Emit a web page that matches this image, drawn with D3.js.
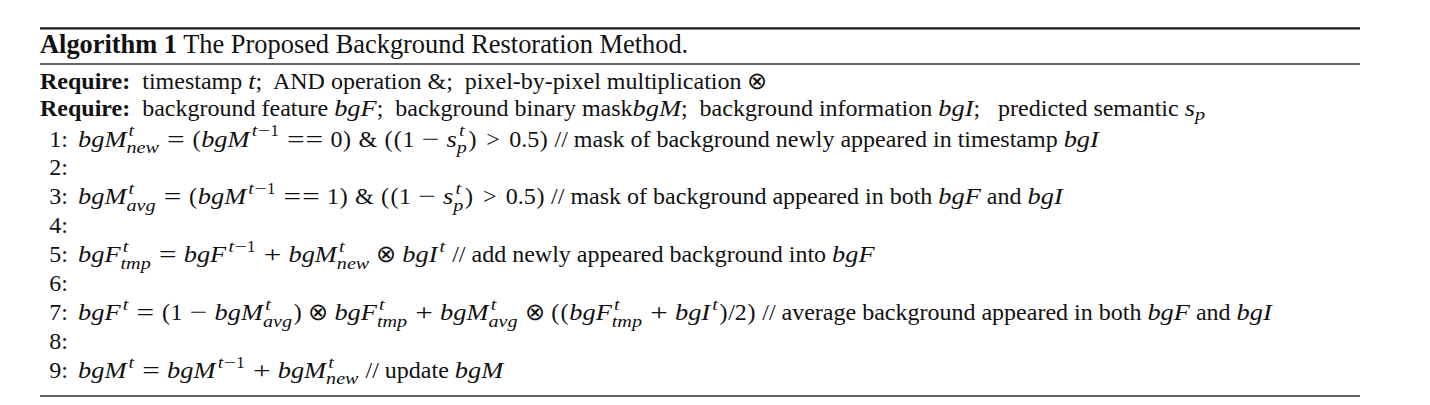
<!DOCTYPE html>
<html>
<head>
<meta charset="utf-8">
<script src="https://cdn.jsdelivr.net/npm/d3@7"></script>
<style>
  html, body { margin: 0; padding: 0; background: #ffffff; }
  svg text { white-space: pre; }
</style>
</head>
<body>
<svg id="chart" width="1430" height="405"></svg>
<script>
// ---- content ----
const titleBold = "Algorithm 1";
const titleText = " The Proposed Background Restoration Method.";
const requireLabel = "Require:";
const requireLines = [
  "timestamp $t$;  AND operation $&$;  pixel-by-pixel multiplication $⊗$",
  "background feature $bgF$;  background binary mask$bgM$;  background information $bgI$;   predicted semantic $s_p$"
];
const stepNumbers = ["1:", "2:", "3:", "4:", "5:", "6:", "7:", "8:", "9:"];
const steps = [
  "$bgM^t_{new} = (bgM^{t-1} == 0) & ((1 - s^t_p) > 0.5)$ // mask of background newly appeared in timestamp $bgI$",
  "",
  "$bgM^t_{avg} = (bgM^{t-1} == 1) & ((1 - s^t_p) > 0.5)$ // mask of background appeared in both $bgF$ and $bgI$",
  "",
  "$bgF^t_{tmp} = bgF^{t-1} + bgM^t_{new} ⊗ bgI^t$ // add newly appeared background into $bgF$",
  "",
  "$bgF^t = (1 - bgM^t_{avg}) ⊗ bgF^t_{tmp} + bgM^t_{avg} ⊗ ((bgF^t_{tmp} + bgI^t)/2)$ // average background appeared in both $bgF$ and $bgI$",
  "",
  "$bgM^t = bgM^{t-1} + bgM^t_{new}$ // update $bgM$"
];

// ---- layout ----
const FS = 24;
const TITLE_FS = 26.4;
const FONT = "'Liberation Serif', 'Times New Roman', Times, serif";
const left = 40, right = 1360;
const svg = d3.select("#chart");
const g = svg.append("g");

const rowY = d3.scalePoint().domain(stepNumbers).range([146.5, 378]);
const headY = { title: 53.3, req0: 89, req1: 116 };

function draw(text, x, y, size, style) {
  style = style || {};
  const sx = style.sx || 1;
  const t = g.append("text")
    .attr("transform", `translate(${x},${y}) scale(${sx},1)`)
    .attr("xml:space", "preserve")
    .style("font-family", FONT)
    .style("font-size", size + "px")
    .style("font-style", style.italic ? "italic" : "normal")
    .style("font-weight", style.bold ? "bold" : "normal")
    .attr("fill", "#111")
    .text(text);
  return t.node().getComputedTextLength() * sx;
}

// draw a glyph centred in a fixed-width box, optionally stretched
function drawBox(text, x, y, size, boxEm, sx) {
  const w = boxEm * size;
  g.append("text")
    .attr("transform", `translate(${x + w / 2},${y}) scale(${sx || 1},1)`)
    .attr("text-anchor", "middle")
    .style("font-family", FONT)
    .style("font-size", size + "px")
    .attr("fill", "#111")
    .text(text);
  return w;
}

function readGroup(s, i) {
  if (s[i] === "{") {
    let depth = 1, j = i + 1;
    while (j < s.length && depth > 0) {
      if (s[j] === "{") depth++;
      if (s[j] === "}") depth--;
      j++;
    }
    return { content: s.slice(i + 1, j - 1), next: j };
  }
  return { content: s[i], next: i + 1 };
}

const WIDE_OPS = "=+−";
const OPS = "=+−>⊗&";
function renderMath(s, x, y, size, script) {
  let i = 0;
  let lastItalic = false;
  const letterSx = script ? 1.2 : 1.1;
  while (i < s.length) {
    let c = s[i];
    if (c === " ") { x += 0.278 * size; i++; lastItalic = false; continue; }
    if (/[A-Za-z]/.test(c)) {
      let j = i;
      while (j < s.length && /[A-Za-z]/.test(s[j])) j++;
      x += draw(s.slice(i, j), x, y, size, { italic: true, sx: letterSx });
      i = j; lastItalic = true; continue;
    }
    if (c === "^" || c === "_") {
      const first = readGroup(s, i + 1);
      let sup = null, sub = null;
      if (c === "^") sup = first.content; else sub = first.content;
      let nxt = first.next;
      if (nxt < s.length && (s[nxt] === "^" || s[nxt] === "_") && s[nxt] !== c) {
        const second = readGroup(s, nxt + 1);
        if (s[nxt] === "^") sup = second.content; else sub = second.content;
        nxt = second.next;
      }
      const ss = size * 0.7;
      let w1 = 0, w2 = 0;
      const corr = lastItalic ? 0.07 * size : 0;
      if (sup !== null) w1 = renderMath(sup, x + corr + 0.02 * size, y - 0.42 * size, ss, true) - x;
      if (sub !== null) w2 = renderMath(sub, x, y + (sup !== null ? 0.27 : 0.17) * size, ss, true) - x;
      x += Math.max(w1, w2) + 0.04 * size;
      i = nxt; lastItalic = false; continue;
    }
    if (c === "-") c = "−";
    if (WIDE_OPS.includes(c)) x += drawBox(c, x, y, size, 0.778, 1.3);
    else if (OPS.includes(c)) x += drawBox(c, x, y, size, 0.778, 1);
    else if (c === "(" || c === ")") x += drawBox(c, x, y, size, 0.389, 1);
    else x += draw(c, x, y, size, {});
    i++; lastItalic = false;
  }
  return x;
}

function renderLine(s, x, y, size) {
  const parts = s.split("$");
  parts.forEach((p, k) => {
    if (k % 2 === 1) x = renderMath(p, x, y, size, false);
    else if (p.length) x += draw(p, x, y, size, {});
  });
  return x;
}

// rules
g.append("line").attr("x1", left).attr("x2", right).attr("y1", 28.3).attr("y2", 28.3)
  .attr("stroke", "#1a1a1a").attr("stroke-width", 2.2);
g.append("line").attr("x1", left).attr("x2", right).attr("y1", 64).attr("y2", 64)
  .attr("stroke", "#333").attr("stroke-width", 1.3);
g.append("line").attr("x1", left).attr("x2", right).attr("y1", 396).attr("y2", 396)
  .attr("stroke", "#333").attr("stroke-width", 1.3);

// title
let tx = left;
tx += draw(titleBold, tx, headY.title, TITLE_FS, { bold: true });
draw(titleText, tx, headY.title, TITLE_FS, {});

// require lines
requireLines.forEach((line, k) => {
  const y = headY["req" + k];
  const w = draw(requireLabel, left, y, FS, { bold: true });
  renderLine(line, left + w + 0.5 * FS, y, FS);
});

// steps
steps.forEach((line, k) => {
  const y = rowY(stepNumbers[k]);
  g.append("text")
    .attr("x", 68).attr("y", y)
    .attr("text-anchor", "end")
    .style("font-family", FONT)
    .style("font-size", FS + "px")
    .attr("fill", "#111")
    .text(stepNumbers[k]);
  if (line) renderLine(line, 78, y, FS);
});
</script>
</body>
</html>
